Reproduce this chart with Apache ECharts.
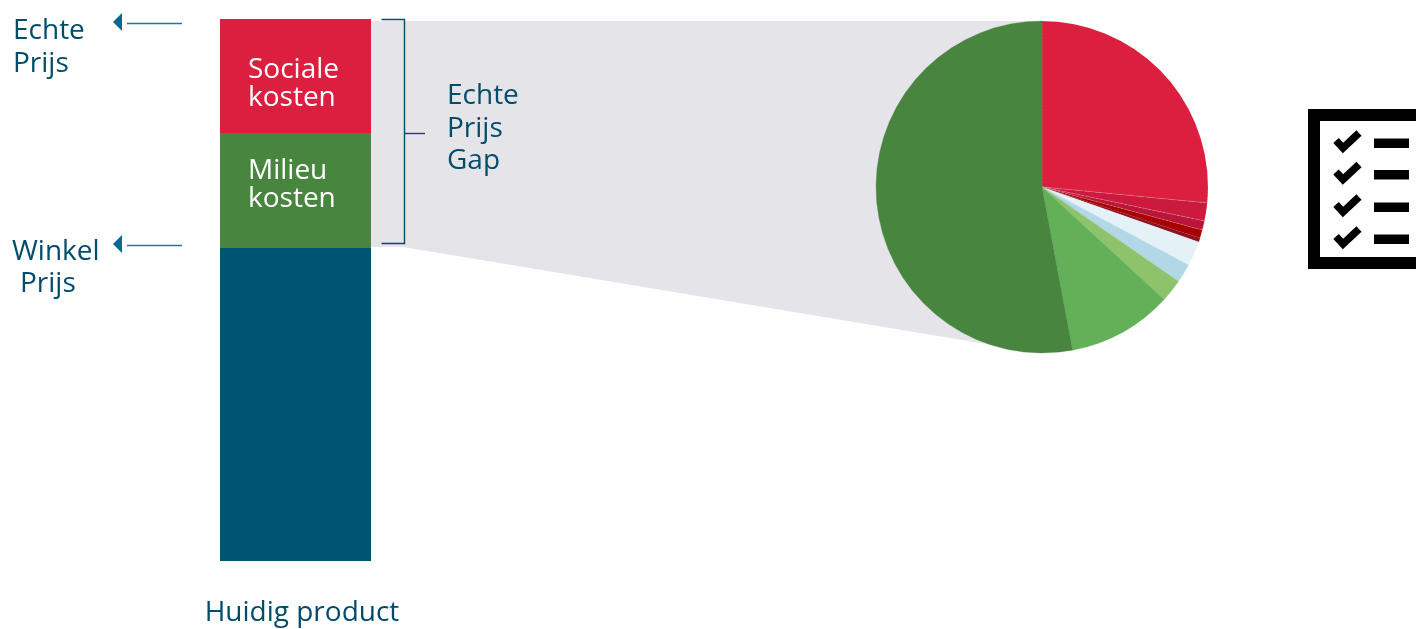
<!DOCTYPE html>
<html>
<head>
<meta charset="utf-8">
<style>html,body{margin:0;padding:0;background:#fff}#c{width:1416px;height:629px}</style>
<script src="https://cdn.jsdelivr.net/npm/echarts@6/dist/echarts.min.js"></script>
</head>
<body>
<div id="c"></div>
<script>
// Price build-up of the current product
const productCategories = ['Huidig product'];
const shopPrice = [313];
const environmentCosts = [115];
const socialCosts = [114];

// Breakdown of the true price gap
const gapNames = ['Sociaal 1','Sociaal 2','Sociaal 3','Sociaal 4','Sociaal 5','Milieu 1','Milieu 2','Milieu 3','Milieu 4','Milieu 5'];
const gapValues = [26.5, 1.75, 0.9, 0.8, 0.4, 2.4, 1.85, 2.2, 10.2, 52.9];
const gapColors = ['#dc1f3f','#cb1a3e','#b9163a','#a80000','#8f1020','#e4f2f8','#b2d8e8','#8fc36b','#62b058','#48863f'];

const INK = '#004c6a';
const ARROW = '#006a94';
const VEIL = '#e4e4e9';
const textFont = '"Open Sans","Noto Sans",sans-serif';

const pieCx = 1042, pieCy = 187, pieR = 166;
const chart = echarts.init(document.getElementById('c'), null, {renderer: 'canvas'});

function note(x, y, lines, size) {
  return {type: 'text', z: 20, style: {x, y, text: lines.join('\n'), fill: INK, font: size + 'px ' + textFont, lineHeight: 32.5, textVerticalAlign: 'top'}};
}
function leftArrow(y) {
  return [
    {type: 'line', z: 20, shape: {x1: 127, y1: y + 1.5, x2: 182, y2: y + 1.5}, style: {stroke: '#1a7a9e', lineWidth: 1.3}},
    {type: 'polygon', z: 20, shape: {points: [[113, y], [122, y - 9], [122, y + 9]]}, style: {fill: ARROW}}
  ];
}
function checklist() {
  const out = [
    {type: 'rect', z: 20, shape: {x: 1314, y: 115, width: 120, height: 148}, style: {fill: '#fff', stroke: '#000', lineWidth: 12}}
  ];
  [143.5, 175, 207.5, 239.5].forEach(y => {
    out.push({type: 'rect', z: 21, shape: {x: 1374, y: y - 5, width: 35, height: 9.5}, style: {fill: '#000'}});
    out.push({type: 'polyline', z: 21, shape: {points: [[1336, y - 3], [1343, y + 4.5], [1359, y - 10.5]]}, style: {stroke: '#000', fill: 'none', lineWidth: 7.5}});
  });
  return out;
}

chart.setOption({
  animation: false,
  backgroundColor: '#fff',
  grid: {left: 220, top: 19, width: 151, height: 542},
  xAxis: {type: 'category', data: productCategories, axisLine: {show: false}, axisTick: {show: false},
    axisLabel: {color: INK, fontFamily: textFont, fontSize: 28, margin: 38, padding: [0, 0, 0, 13]}},
  yAxis: {type: 'value', min: 0, max: 542, show: false, splitLine: {show: false}},
  series: [
    {type: 'bar', stack: 'prijs', barWidth: '100%', data: shopPrice, itemStyle: {color: '#005473'}, z: 5},
    {type: 'bar', stack: 'prijs', data: environmentCosts, itemStyle: {color: '#48863f'}, z: 5,
      label: {show: true, position: 'insideLeft', offset: [23, -5], formatter: 'Milieu\nkosten', color: '#fff', fontFamily: textFont, fontSize: 28, lineHeight: 28}},
    {type: 'bar', stack: 'prijs', data: socialCosts, itemStyle: {color: '#dc1f3f'}, z: 5,
      label: {show: true, position: 'insideLeft', offset: [23, 8], formatter: 'Sociale\nkosten', color: '#fff', fontFamily: textFont, fontSize: 28, lineHeight: 28}},
    {type: 'pie', center: [pieCx, pieCy], radius: [0, pieR], startAngle: 90, clockwise: true, silent: true, z: 5,
      label: {show: false}, labelLine: {show: false},
      data: gapValues.map((value, i) => ({
        name: gapNames[i], value,
        itemStyle: {color: gapColors[i], borderColor: i < 4 ? 'rgba(255,255,255,0.3)' : gapColors[i], borderWidth: i < 4 ? 0.6 : 0.3, borderType: i < 4 ? 'dashed' : 'solid'}
      }))}
  ]
});

// Overlays positioned from the bar's own scale
function overlays() {
  const yTop = chart.convertToPixel({gridIndex: 0}, [0, shopPrice[0] + environmentCosts[0] + socialCosts[0]])[1];
  const yMid = chart.convertToPixel({gridIndex: 0}, [0, shopPrice[0] + environmentCosts[0]])[1];
  const yShop = chart.convertToPixel({gridIndex: 0}, [0, shopPrice[0]])[1];
  return [
    {type: 'polygon', z: 0, shape: {points: [[371, yTop + 2], [pieCx, yTop + 2], [pieCx, pieCy + 60], [992, pieCy + pieR - 8], [403, yShop - 1], [371, yShop - 1]]}, style: {fill: VEIL}},
    {type: 'polyline', z: 20, shape: {points: [[381.5, yTop + 0.5], [404.5, yTop + 0.5], [404.5, yShop - 4.5], [381.5, yShop - 4.5]]}, style: {stroke: '#004c6a', lineWidth: 1.4, fill: 'none'}},
    {type: 'line', z: 20, shape: {x1: 404.5, y1: yMid + 0.5, x2: 425, y2: yMid + 0.5}, style: {stroke: '#004c6a', lineWidth: 1.4}},
    note(447, 80, ['Echte', 'Prijs', 'Gap'], 28),
    note(13, 15, ['Echte', 'Prijs'], 28),
    note(12, 236, ['Winkel'], 28),
    note(20, 268, ['Prijs'], 28),
    ...leftArrow(22),
    ...leftArrow(244),
    ...checklist()
  ];
}
chart.setOption({graphic: {elements: overlays()}});
</script>
</body>
</html>
